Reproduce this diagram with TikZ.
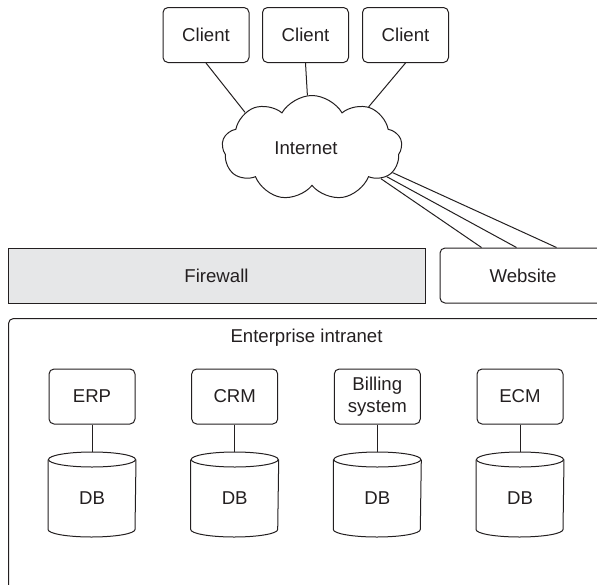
\documentclass[tikz,border=0pt]{standalone}
\usepackage{fontspec}
\setmainfont{Liberation Sans}
\usetikzlibrary{shapes.symbols}
\definecolor{ink}{RGB}{35,31,32}
\definecolor{wallgray}{RGB}{230,231,232}
\tikzset{
  base/.style={font=\fontsize{18.6}{22}\selectfont, text=ink, draw=ink, line width=1pt, inner sep=0pt},
  box/.style={base, rectangle, rounded corners=5pt, minimum width=86pt, minimum height=55pt, align=center},
  wall/.style={base, rectangle, fill=wallgray, minimum height=55pt},
  dbbox/.style={base, draw=none, rectangle, minimum width=87pt, minimum height=84pt, text height=20pt, text depth=0pt},
  netcloud/.style={base, cloud, cloud puffs=9, cloud puff arc=120, aspect=1.7, minimum width=180pt, minimum height=105pt},
  wire/.style={draw=ink, line width=1pt},
}
\begin{document}
\begin{tikzpicture}[x=1pt, y=-1pt]
\useasboundingbox (0,0) rectangle (597,584);

% top row: clients and the internet
\node[box] (c1) at (206,35) {Client};
\node[box] (c2) at (305.5,35) {Client};
\node[box] (c3) at (405.5,35) {Client};
\node[netcloud, label={[base, draw=none, xshift=-6pt]center:Internet}] (net) at (312,148) {};

% perimeter
\node[wall, minimum width=417pt] (fw) at (216.5,275.5) {Firewall};
\node[box, minimum width=166pt] (web) at (523,275.5) {Website};

% intranet frame
\node[base, rectangle, rounded corners=5pt, minimum width=608pt, minimum height=300pt, anchor=north west] (ent) at (8,318) {};
\node[base, draw=none, anchor=base] (entlabel) at (306.5,342.5) {Enterprise intranet};

% applications and their databases
\foreach \n/\x/\t in {erp/92/ERP, crm/234.7/CRM, bill/377.3/{Billing\\system}, ecm/520/ECM}{
  \node[box] (\n) at (\x,396.5) {\t};
  \node[dbbox] (\n db) at (\x,494.5) {DB};
  \draw[wire] ([yshift=-7.5pt]\n db.north) ellipse[x radius=43.5pt, y radius=7.5pt];
  \draw[wire] ([yshift=-7.5pt]\n db.north west) -- ([yshift=7.5pt]\n db.south west)
     arc[start angle=180, end angle=360, x radius=43.5pt, y radius=7.5pt]
     -- ([yshift=-7.5pt]\n db.north east);
  \draw[wire] (\n.south) -- (\n db.north);
}

% connections
\draw[wire] (c1.south) -- (net.152);
\draw[wire] (c2.south) -- (net.95);
\draw[wire] (c3.south) -- (net.36);
\draw[wire] (net.-17) -- ([xshift=117pt]web.north west);
\draw[wire] (net.-21) -- ([xshift=77pt]web.north west);
\draw[wire] (net.-24) -- ([xshift=42pt]web.north west);
\end{tikzpicture}
\end{document}
